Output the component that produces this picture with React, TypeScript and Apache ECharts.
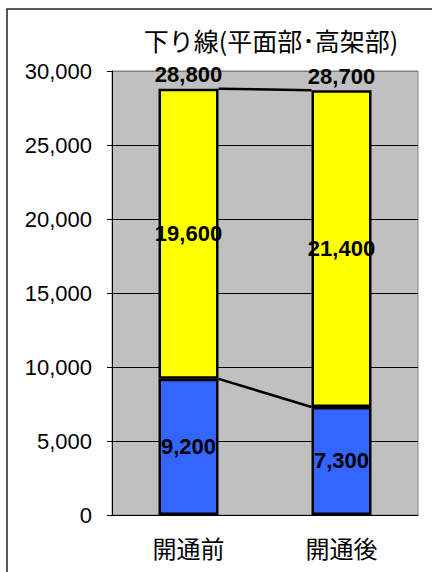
import React, { useEffect, useRef } from "react";
import * as echarts from "echarts";

const categories = ["開通前", "開通後"];
const lowerValues = [9200, 7300];
const upperValues = [19600, 21400];
const totalValues = [28800, 28700];
const titleText = "下り線(平面部･高架部)";

const BAR_W = 60;

export default function App() {
  const ref = useRef<HTMLDivElement>(null);
  useEffect(() => {
    document.body.style.margin = "0";
    const chart = echarts.init(ref.current!, null, { renderer: "svg" });
    const labelFont = {
      fontFamily: "Liberation Sans",
      fontWeight: "bold" as const,
      fontSize: 22,
      color: "#000",
      opacity: 1,
      textBorderWidth: 0,
      textBorderColor: "transparent",
    };
    chart.setOption({
      animation: false,
      backgroundColor: "#fff",
      graphic: [
        {
          type: "rect",
          shape: { x: 7, y: 9, width: 460, height: 600 },
          style: { fill: "none", stroke: "#222", lineWidth: 1.5 },
          z: -1,
        },
        {
          type: "text",
          x: 271,
          y: 40,
          style: {
            text: titleText,
            fontFamily: "Noto Sans CJK JP",
            fontSize: 25,
            fill: "#000",
            textAlign: "center",
            textVerticalAlign: "middle",
          },
        },
      ],
      grid: {
        left: 112,
        right: 14,
        top: 71,
        bottom: 57,
        show: true,
        backgroundColor: "#C0C0C0",
        borderColor: "#808080",
        borderWidth: 1,
      },
      xAxis: {
        type: "category",
        data: categories,
        axisLine: { lineStyle: { color: "#000", width: 1 } },
        axisTick: { inside: true, length: 5, lineStyle: { color: "#000" } },
        axisLabel: {
          fontFamily: "Noto Sans CJK JP",
          fontSize: 24,
          color: "#000",
          margin: 20,
        },
      },
      yAxis: {
        type: "value",
        min: 0,
        max: 30000,
        interval: 5000,
        axisLine: { show: true, lineStyle: { color: "#000", width: 1 } },
        axisTick: { show: true, length: 5, lineStyle: { color: "#000" } },
        axisLabel: {
          fontFamily: "Liberation Sans",
          fontSize: 22,
          color: "#000",
          margin: 20,
          formatter: (v: number) => v.toLocaleString("en-US"),
        },
        splitLine: {
          lineStyle: {
            color: ["#000", "#000", "#000", "#000", "#000", "#000", "#808080"],
            width: 1,
          },
        },
      },
      series: [
        {
          type: "bar",
          stack: "s",
          barWidth: BAR_W,
          data: lowerValues,
          itemStyle: { color: "#3366FF", borderColor: "#000", borderWidth: 2.5 },
          label: {
            show: true,
            position: "inside",
            ...labelFont,
            formatter: (p: any) => p.value.toLocaleString("en-US"),
          },
        },
        {
          type: "bar",
          stack: "s",
          barWidth: BAR_W,
          data: upperValues,
          itemStyle: { color: "#FFFF00", borderColor: "#000", borderWidth: 2.5 },
          label: {
            show: true,
            position: "inside",
            ...labelFont,
            formatter: (p: any) => p.value.toLocaleString("en-US"),
          },
        },
        {
          type: "line",
          data: totalValues,
          symbol: "circle",
          symbolSize: 0.01,
          showSymbol: true,
          lineStyle: { width: 0, opacity: 0 },
          itemStyle: { opacity: 1, color: "#000" },
          label: {
            show: true,
            position: "top",
            distance: 3,
            ...labelFont,
            formatter: (p: any) => p.value.toLocaleString("en-US"),
          },
          z: 5,
        },
        {
          type: "custom",
          data: [
            [0, lowerValues[0], lowerValues[1]],
            [0, totalValues[0], totalValues[1]],
          ],
          encode: { x: 0, y: [1, 2] },
          renderItem: (params: any, api: any) => {
            const p0 = api.coord([0, api.value(1)]);
            const p1 = api.coord([1, api.value(2)]);
            return {
              type: "line",
              shape: {
                x1: p0[0] + BAR_W / 2,
                y1: p0[1],
                x2: p1[0] - BAR_W / 2,
                y2: p1[1],
              },
              style: { stroke: "#000", lineWidth: 2.5 },
            };
          },
          z: 4,
        },
      ],
    });
    return () => chart.dispose();
  }, []);
  return <div ref={ref} style={{ width: 432, height: 572 }} />;
}
